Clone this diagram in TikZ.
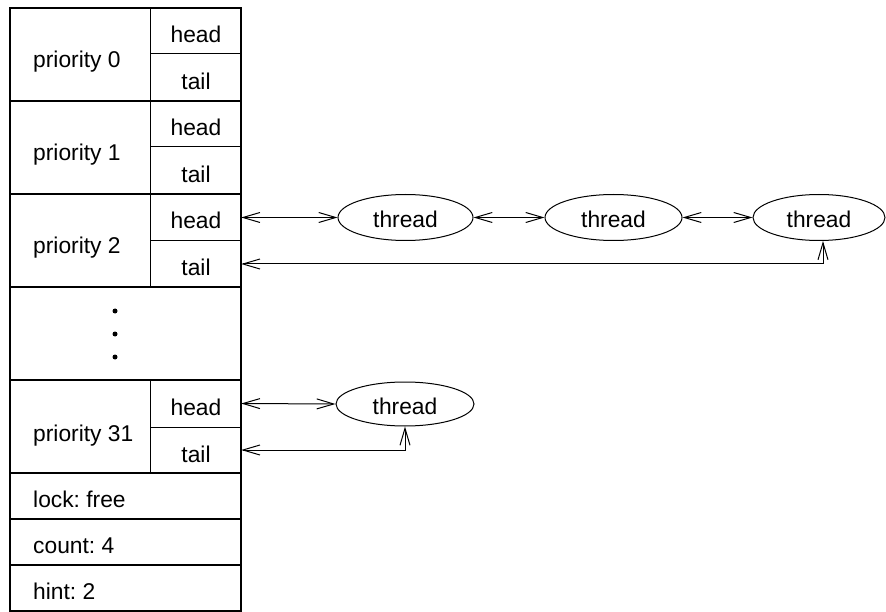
\documentclass[tikz,border=0pt]{standalone}
\usepackage{fontspec}
\setmainfont{Liberation Sans}
\usetikzlibrary{arrows.meta,shapes.geometric}
\frenchspacing
\begin{document}
\begin{tikzpicture}[x=1pt,y=-1pt,
  txt/.style={font=\fontsize{22.8}{26}\selectfont, inner sep=0pt, anchor=base},
  ltxt/.style={txt, anchor=base west},
  cellnode/.style={draw=none, inner sep=0pt, minimum width=91pt, minimum height=46pt},
  thick line/.style={line width=2pt},
  thin line/.style={line width=1pt},
  thr/.style={ellipse, draw, line width=1pt, inner sep=0pt, minimum width=135pt, minimum height=46pt},
  link/.style={line width=1pt, {Straight Barb[length=17pt,width=10pt]}-{Straight Barb[length=17pt,width=10pt]}}
]
\useasboundingbox (0,0) rectangle (886,612);

% table frame
\draw[thick line] (10,8) rectangle (241,611);
\foreach \y in {101,194,287,380,473,519,565}
  \draw[thick line] (10,\y) -- (241,\y);
\foreach \a/\b in {8/101,101/194,194/287,380/473}
  \draw[thin line] (150,\a) -- (150,\b);
\foreach \y in {54,147,241,427}
  \draw[thin line] (150,\y) -- (241,\y);

% cells (named, for connectors)
\node[cellnode] (h0) at (195.5,31) {};
\node[cellnode] (t0) at (195.5,77.5) {};
\node[cellnode] (h1) at (195.5,124) {};
\node[cellnode] (t1) at (195.5,170.5) {};
\node[cellnode] (h2) at (195.5,217.5) {};
\node[cellnode] (t2) at (195.5,264) {};
\node[cellnode] (h31) at (195.5,403.5) {};
\node[cellnode] (t31) at (195.5,450) {};

% labels
\node[ltxt] (p0) at (33,68) {priority 0};
\node[ltxt] (p1) at (33,161) {priority 1};
\node[ltxt] (p2) at (33,254) {priority 2};
\node[ltxt] (p31) at (33,441) {priority 31};
\foreach \n/\y in {0/43,1/136,2/229,31/415}
  \node[txt] (hl\n) at (196,\y) {head};
\foreach \n/\y in {0/90,1/183,2/276,31/462}
  \node[txt] (tl\n) at (196,\y) {tail};
\node[ltxt] (lock) at (33,507) {lock: free};
\node[ltxt] (count) at (33,553) {count: 4};
\node[ltxt] (hint) at (33,599) {hint: 2};

% dots
\foreach \y in {311,334,357}
  \fill (115,\y) circle (2.5pt);

% threads
\node[thr] (e1) at (405.5,217.5) {};
\node[thr, minimum width=137pt] (e2) at (613.5,217.5) {};
\node[thr, minimum width=132pt] (e3) at (819,217.5) {};
\node[thr, minimum width=138pt, minimum height=44pt] (e31) at (405,404) {};
\node[txt] (l1) at (405.5,228) {thread};
\node[txt] (l2) at (613.5,228) {thread};
\node[txt] (l3) at (819,228) {thread};
\node[txt] (l31) at (405,414.5) {thread};

% connectors
\draw[link] (h2.east) -- (e1.west);
\draw[link] (e1.east) -- (e2.west);
\draw[link] (e2.east) -- (e3.west);
\draw[link] (t2.east) -| ([xshift=4pt]e3.south);
\draw[link] (h31.east) -- (e31.west);
\draw[link] (t31.east) -| (e31.south);
\end{tikzpicture}
\end{document}
